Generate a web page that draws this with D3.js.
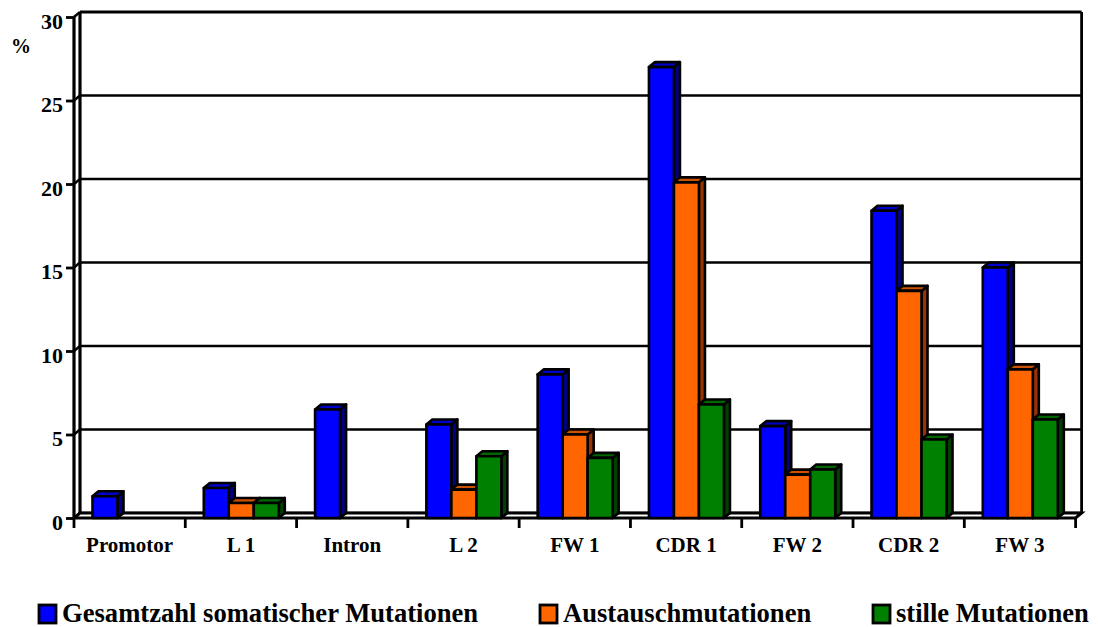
<!DOCTYPE html>
<html><head><meta charset="utf-8">
<script src="https://cdn.jsdelivr.net/npm/d3@7"></script>
<style>body{margin:0;background:#fff}svg{display:block}text{font-family:"Liberation Serif","Times New Roman",serif;font-weight:bold;fill:#000}</style>
</head><body><svg id="c" width="1098" height="627"></svg>
<script>
const categories = ["Promotor","L 1","Intron","L 2","FW 1","CDR 1","FW 2","CDR 2","FW 3"];
const gesamt    = [1.3, 1.8, 6.5, 5.6, 8.6, 27.0, 5.5, 18.4, 15.0];
const austausch = [0, 0.9, 0, 1.7, 5.0, 20.1, 2.6, 13.6, 8.9];
const stille    = [0, 0.9, 0, 3.7, 3.6, 6.8, 2.9, 4.7, 5.9];
const seriesNames = ["Gesamtzahl somatischer Mutationen","Austauschmutationen","stille Mutationen"];
const yTicks = [0,5,10,15,20,25,30];

const colors = [
  {front:"#0000FF", top:"#0000CC", side:"#000080"},
  {front:"#FF6600", top:"#CC5200", side:"#993300"},
  {front:"#008000", top:"#006600", side:"#004000"}
];
const dx = 6, dy = -5;
const svg = d3.select("#c");
const y = d3.scaleLinear().domain([0,30]).range([518,17]);
const x0 = d3.scaleBand().domain(categories).range([74,1075.6]);
const x1 = d3.scaleBand().domain([0,1,2]).range([18.5,93.5]);
const left = 74, right = 1075.6;

const g = svg.append("g");
yTicks.forEach(t=>{
  g.append("line").attr("x1",left+dx).attr("x2",right+dx).attr("y1",y(t)+dy).attr("y2",y(t)+dy)
   .attr("stroke","#000").attr("stroke-width",t===30?3.2:2.6);
  g.append("line").attr("x1",left).attr("x2",left+dx).attr("y1",y(t)).attr("y2",y(t)+dy)
   .attr("stroke","#000").attr("stroke-width",2.5);
});
g.append("line").attr("x1",left+dx).attr("x2",left+dx).attr("y1",y(30)+dy).attr("y2",y(0)+dy).attr("stroke","#000").attr("stroke-width",3.2);
g.append("line").attr("x1",right+dx).attr("x2",right+dx).attr("y1",y(30)+dy).attr("y2",y(0)+dy).attr("stroke","#000").attr("stroke-width",2.8);
g.append("path").attr("d",`M${left},${y(0)}L${right},${y(0)}L${right+dx},${y(0)+dy}L${left+dx},${y(0)+dy}Z`)
 .attr("fill","#fff").attr("stroke","#000").attr("stroke-width",3);
g.append("line").attr("x1",left).attr("x2",left).attr("y1",y(30)).attr("y2",y(0)).attr("stroke","#000").attr("stroke-width",3.2);

const yAxis = d3.axisLeft(y).tickValues(yTicks).tickSize(8).tickPadding(3).tickFormat(d3.format("d"));
const ya = svg.append("g").attr("transform",`translate(${left},0)`).call(yAxis);
ya.select(".domain").remove();
ya.selectAll(".tick line").attr("stroke","#000").attr("stroke-width",2.8);
ya.selectAll(".tick text").attr("font-size",22).attr("dy","0.5em").style("font-family","'Liberation Serif',serif").style("font-weight","bold").attr("fill","#000");

const edges = categories.map(c=>x0(c)).concat([right]);
edges.forEach(e=>{
  svg.append("line").attr("x1",e).attr("x2",e).attr("y1",y(0)).attr("y2",y(0)+10).attr("stroke","#000").attr("stroke-width",2.8);
});
categories.forEach(c=>{
  svg.append("text").attr("x",x0(c)+x0.bandwidth()/2).attr("y",552).attr("text-anchor","middle").attr("font-size",21).text(c);
});

const series = [gesamt, austausch, stille];
categories.forEach((c,i)=>{
  series.forEach((s,k)=>{
    const v = s[i];
    if(!v) return;
    const xa = x0(c)+x1(k), xb = xa + x1.bandwidth(), yt = y(v), yb = y(0);
    const bg = svg.append("g").attr("stroke","#000").attr("stroke-width",2.6).attr("stroke-linejoin","round");
    bg.append("path").attr("d",`M${xb},${yt}L${xb+dx},${yt+dy}L${xb+dx},${yb+dy}L${xb},${yb}Z`).attr("fill",colors[k].side);
    bg.append("path").attr("d",`M${xa},${yt}L${xa+dx},${yt+dy}L${xb+dx},${yt+dy}L${xb},${yt}Z`).attr("fill",colors[k].top);
    bg.append("rect").attr("x",xa).attr("y",yt).attr("width",xb-xa).attr("height",yb-yt).attr("fill",colors[k].front);
  });
});

svg.append("text").attr("x",11).attr("y",53).attr("font-size",20).text("%");

const legX = [39, 540, 873];
seriesNames.forEach((n,k)=>{
  svg.append("rect").attr("x",legX[k]).attr("y",605).attr("width",17).attr("height",18)
    .attr("fill",colors[k].front).attr("stroke","#000").attr("stroke-width",2.8);
  svg.append("text").attr("x",legX[k]+23).attr("y",622).attr("font-size",26.6).text(n);
});
</script></body></html>
